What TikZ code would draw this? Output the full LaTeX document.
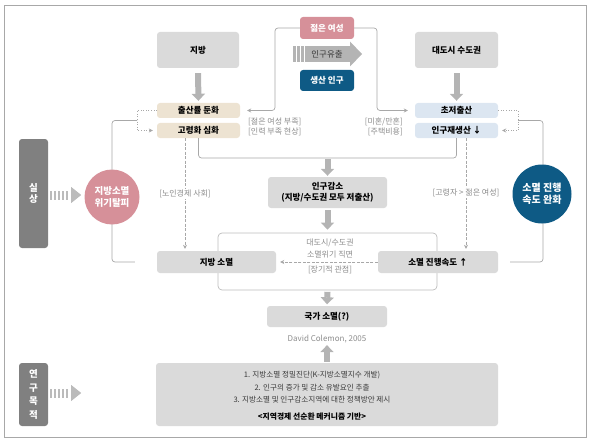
\documentclass[tikz,border=0pt]{standalone}
\usepackage{fontspec}
\setmainfont{Noto Sans CJK KR}
\usetikzlibrary{arrows.meta,calc}
\definecolor{boxgray}{HTML}{DADADA}
\definecolor{beige}{HTML}{EDE3D2}
\definecolor{lblue}{HTML}{DCE6F1}
\definecolor{pinkc}{HTML}{D69099}
\definecolor{dblue}{HTML}{0E5A85}
\definecolor{dgray}{HTML}{808080}
\definecolor{linegray}{HTML}{A8A8A8}
\definecolor{framegray}{HTML}{BDBDBD}
\definecolor{arrowgray}{HTML}{B4B4B4}
\definecolor{stripegray}{HTML}{BBBBBB}
\definecolor{txtgray}{HTML}{8C8C8C}
\definecolor{txtdark}{HTML}{3A3A3A}
\newcommand\bxfont{\fontsize{8.5}{10}\selectfont\bfseries}
\newcommand\smfont{\fontsize{8}{10}\selectfont}
\newcommand\cirfont{\fontsize{9.5}{12}\selectfont\bfseries}
\tikzset{
  box/.style={rounded corners=3pt, align=center, inner sep=0pt, font=\bxfont, text=black},
  graybox/.style={box, fill=boxgray},
  beigebox/.style={box, fill=beige},
  bluebox/.style={box, fill=lblue},
  sidebox/.style={box, fill=dgray, text=white, font=\cirfont},
  circ/.style={circle, inner sep=0pt, align=center, text=white, font=\cirfont},
  smlabel/.style={font=\smfont, text=txtgray, inner sep=1pt, align=center},
  conn/.style={draw=linegray, line width=0.7pt, rounded corners=3pt, -{Stealth[length=4pt,width=4pt]}},
  bracketline/.style={draw=linegray, line width=0.7pt, rounded corners=3pt},
  dotconn/.style={draw=linegray, line width=0.6pt, dotted, -{Stealth[length=4pt,width=4pt]}},
  dashconn/.style={draw=linegray, line width=0.6pt, dash pattern=on 3pt off 1.5pt, -{Stealth[length=4pt,width=4pt]}},
  block/.style={draw=arrowgray, line width=6pt, -{Triangle[length=7pt,width=13pt]}},
}
\begin{document}
\begin{tikzpicture}[x=1pt,y=-1pt]
\useasboundingbox (0,0) rectangle (591,441);
\draw[draw=linegray, line width=0.8pt] (4,5) rectangle (586,437);

% inner frame
\node[draw=framegray, fill=white, line width=0.7pt, rounded corners=4pt, minimum width=219pt, minimum height=57pt, inner sep=0pt] (frame) at (327.5,261.5) {};

% top boxes
\node[graybox, minimum width=82pt, minimum height=36pt] (jibang) at (198,50) {지방};
\node[graybox, minimum width=83pt, minimum height=36pt] (metro) at (456.5,50) {대도시 수도권};
\node[box, fill=pinkc, text=white, minimum width=54pt, minimum height=22pt] (youngw) at (327,28) {젊은 여성};
\node[box, fill=dblue, text=white, minimum width=54pt, minimum height=21pt] (prodpop) at (327,80.5) {생산 인구};

\node[beigebox, minimum width=83pt, minimum height=15pt] (birth) at (198.5,110.5) {출산률 둔화};
\node[beigebox, minimum width=83pt, minimum height=15pt] (aging) at (198.5,130.5) {고령화 심화};
\node[bluebox, minimum width=83pt, minimum height=15pt] (lowbirth) at (456.5,110.5) {초저출산};
\node[bluebox, minimum width=83pt, minimum height=15pt] (repro) at (456.5,130.5) {인구재생산 ↓};

\node[graybox, minimum width=119pt, minimum height=31pt] (decline) at (327.5,192.5) {인구감소\\[1pt](지방/수도권 모두 저출산)};
\node[graybox, minimum width=119pt, minimum height=22pt] (localext) at (216.5,262) {지방 소멸};
\node[graybox, minimum width=120pt, minimum height=22pt] (speed) at (438,262) {소멸 진행속도 ↑};
\node[graybox, minimum width=120pt, minimum height=21pt] (nation) at (327,316.5) {국가 소멸(?)};
\node[font=\smfont, text=txtgray, inner sep=1pt] (colemon) at (327,339) {David Colemon, 2005};

\node[box, fill=boxgray, minimum width=342pt, minimum height=63pt] (goal) at (327,394.5) {};
\node[font=\fontsize{7.6}{12.5}\selectfont, text=txtdark, align=center, inner sep=0pt] (goaltext) at (312,387.5)
  {1. 지방소멸 정밀진단(K-지방소멸지수 개발)\\2. 인구의 증가 및 감소 유발요인 추출\\3. 지방소멸 및 인구감소지역에 대한 정책방안 제시};
\node[font=\fontsize{7.8}{10}\selectfont\bfseries, text=black, inner sep=0pt] (goalbase) at (312,417) {<지역경제 선순환 메커니즘 기반>};

\node[sidebox, minimum width=29pt, minimum height=109pt] (silsang) at (33.5,193.5) {실\\[-1pt]상};
\node[sidebox, minimum width=29pt, minimum height=63pt, font=\fontsize{9.5}{13.5}\selectfont\bfseries] (purpose) at (33.5,394.5) {연\\구\\목\\적};

% labels
\node[smlabel, anchor=west, align=left] (lbl1) at (247,127) {[젊은 여성 부족]\\[-0.5pt][인력 부족 현상]};
\node[smlabel, anchor=east, align=right] (lbl2) at (404,127) {[미혼/만혼]\\[-0.5pt][주택비용]};
\node[smlabel] (f1) at (330,243) {대도시/수도권};
\node[smlabel] (f2) at (330,255) {소멸위기 직면};
\node[smlabel] (f3) at (330,269.5) {[장기적 관점]};

% connectors from young women
\draw[conn] (youngw.west) -| (275,110.5) -- ([xshift=7pt]birth.east);
\draw[conn] (youngw.east) -| (377,110.5) -- ([xshift=-7pt]lowbirth.west);

% dotted loops
\draw[dotconn] (birth.west) -- ++(-20,0) |- ([xshift=-4pt]aging.west);
\draw[dotconn] (lowbirth.east) -- ++(20,0) |- ([xshift=4pt]repro.east);

% side brackets
\coordinate (lbk) at (137,120.5);
\coordinate (rbk) at (518,120.5);
\draw[bracketline] (lbk) -| (112,262) -- ([xshift=-22pt]localext.west);
\draw[bracketline] (rbk) -| (543,262) -- ([xshift=12pt]speed.east);

% join line under aging / repro
\coordinate (mid) at (327.5,158);
\draw[bracketline] (aging.south) |- (mid) -| (repro.south);

% dashed verticals
\coordinate (d1) at ([xshift=-13.5pt]aging.south);
\coordinate (d2) at ([xshift=9.5pt]repro.south);
\draw[dashconn] (d1) -- ($(d1 |- localext.north)+(0,-2)$);
\draw[dashconn] (d2) -- ($(d2 |- speed.north)+(0,-2)$);
\node[smlabel, fill=white] (lbl3) at (185,194) {[노인경제 사회]};
\node[smlabel, fill=white] (lbl4) at (466,193) {[고령자 > 젊은 여성]};

% dashed horizontal in frame
\draw[dashconn] (speed.west) -- ([xshift=4pt]localext.east);

% block arrows
\draw[block] ([yshift=-5pt]jibang.south) -- ([yshift=2pt]birth.north);
\draw[block] ([yshift=-5pt]metro.south) -- ([yshift=2pt]lowbirth.north);
\draw[block] ([yshift=-1pt]mid) -- ([yshift=1pt]decline.north);
\draw[block] ([yshift=-2pt]decline.south) -- ([yshift=3pt]frame.north);
\draw[block] ([yshift=-1.5pt]frame.south) -- ([yshift=1.5pt]nation.north);
\draw[block] ([yshift=1pt]goal.north) -- ([yshift=-1pt]colemon.south);

% circles
\node[circ, fill=pinkc, minimum size=55pt] (cleft) at (112,197) {지방소멸\\위기탈피};
\node[circ, fill=dblue, minimum size=59pt, font=\fontsize{10}{12}\selectfont\bfseries] (cright) at (542,194) {소멸 진행\\속도 완화};

% striped arrows
\foreach \src/\yy in {silsang/195, purpose/393}{
  \begin{scope}[shift={($(\src.east |- 0,\yy)+(2,0)$)}]
    \foreach \i in {0,...,4}{\fill[stripegray] (\i*4,-4.5) rectangle ++(2.2,9);}
    \fill[stripegray] (21,-8) -- (31,0) -- (21,8) -- cycle;
  \end{scope}
}

% outflow arrow
\foreach \i in {0,1,2}{\fill[arrowgray] (293+\i*4,46) rectangle ++(2.5,16);}
\fill[arrowgray] (305,46) rectangle (350,62);
\fill[arrowgray] (350,41.5) -- (362,54) -- (350,66.5) -- cycle;
\node[font=\fontsize{8.5}{10}\selectfont, text=txtdark, inner sep=0pt] (outflow) at (327,54) {인구유출};
\end{tikzpicture}
\end{document}
